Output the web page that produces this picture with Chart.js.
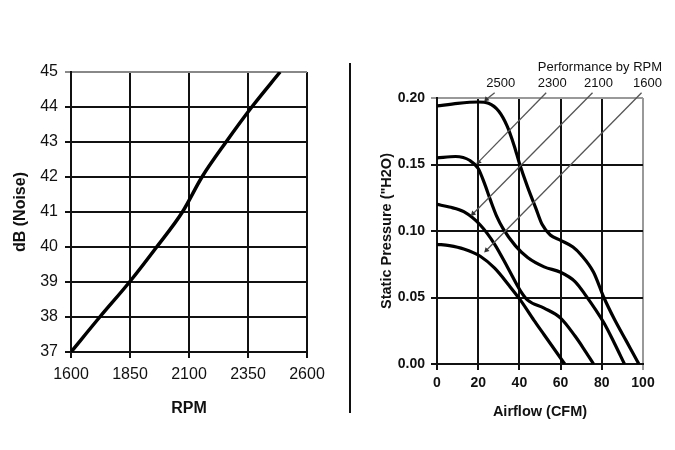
<!DOCTYPE html>
<html>
<head>
<meta charset="utf-8">
<script src="https://cdn.jsdelivr.net/npm/chart.js@4.4.1/dist/chart.umd.min.js"></script>
<style>
  html, body { margin: 0; padding: 0; background: #fff; }
  #page { position: relative; width: 675px; height: 450px; overflow: hidden; }
  #leftBox { position: absolute; left: 0; top: 0; width: 340px; height: 450px; }
  #rightBox { position: absolute; left: 352px; top: 0; width: 323px; height: 450px; }
  #divider { position: absolute; left: 349px; top: 63px; width: 2px; height: 350px; background: #111; }
</style>
</head>
<body>
<div id="page">
  <div id="leftBox"><canvas id="noiseChart"></canvas></div>
  <div id="divider"></div>
  <div id="rightBox"><canvas id="pressureChart"></canvas></div>
</div>
<script>
// noise vs rpm
const rpmValues = [1600, 1722, 1848, 1963, 2072, 2155, 2257, 2366, 2486];
const noiseDb = [37, 38, 39, 40, 41, 42, 43, 44, 45];

// fan curves, airflow (CFM) / static pressure ("H2O)
const airflow2500 = [0, 10, 20, 25, 30, 34, 37.5, 40, 44, 48, 51, 55, 60, 66, 70, 76, 81, 86, 92, 98];
const pressure2500 = [0.194, 0.196, 0.197, 0.196, 0.19, 0.179, 0.164, 0.151, 0.133, 0.117, 0.105, 0.097, 0.093, 0.088, 0.082, 0.069, 0.05, 0.034, 0.017, 0];
const airflow2300 = [0, 9, 16, 20, 23, 26, 29, 32, 38, 44, 52, 60, 67, 72, 81, 86, 91];
const pressure2300 = [0.155, 0.156, 0.153, 0.147, 0.136, 0.123, 0.111, 0.102, 0.089, 0.08, 0.073, 0.069, 0.062, 0.052, 0.031, 0.016, 0];
const airflow2100 = [0, 6, 13, 21, 28, 34.5, 40.5, 44, 52, 60, 67, 71, 76];
const pressure2100 = [0.12, 0.118, 0.1145, 0.1045, 0.09, 0.072, 0.055, 0.048, 0.042, 0.0345, 0.021, 0.012, 0];
const airflow1600 = [0, 6, 13, 21, 28, 35, 40.5, 47, 52, 62];
const pressure1600 = [0.09, 0.089, 0.0865, 0.081, 0.072, 0.059, 0.048, 0.033, 0.022, 0];

// "Performance by RPM" call-outs
const curveRpm = ['2500', '2300', '2100', '1600'];
const leaderTopX = [28, 53, 75.5, 99.3];
const leaderTopY = [0.204, 0.204, 0.204, 0.204];
const leaderTipX = [24, 20.2, 17.5, 24];
const leaderTipY = [0.199, 0.152, 0.113, 0.0855];
const legendTitle = 'Performance by RPM';

const FONT = '"Liberation Sans", Arial, sans-serif';

function toPoints(xs, ys) {
  return xs.map((v, i) => ({ x: v, y: ys[i] }));
}

function gridColor(max, edgeColor) {
  return ctx => (ctx.tick && ctx.tick.value === max ? edgeColor : '#111');
}

new Chart(document.getElementById('noiseChart'), {
  type: 'line',
  data: {
    datasets: [{
      data: toPoints(rpmValues, noiseDb),
      borderColor: '#000',
      borderWidth: 3.5,
      pointRadius: 0,
      cubicInterpolationMode: 'monotone'
    }]
  },
  options: {
    responsive: true,
    maintainAspectRatio: false,
    animation: false,
    layout: { padding: { top: 72, right: 33, bottom: 0, left: 0 } },
    plugins: { legend: { display: false }, tooltip: { enabled: false } },
    scales: {
      x: {
        type: 'linear',
        min: 1600,
        max: 2600,
        afterFit: s => { s.height = 98; },
        grid: { color: '#111', lineWidth: 2, tickLength: 6 },
        border: { color: '#111', width: 2 },
        ticks: { stepSize: 250, color: '#111', padding: 7, font: { family: FONT, size: 16 }, maxRotation: 0, callback: v => String(v) },
        title: { display: true, text: 'RPM', color: '#111', font: { family: FONT, size: 16, weight: 'bold' }, padding: { bottom: 32 } }
      },
      y: {
        min: 37,
        max: 45,
        afterFit: s => { s.width = 71; },
        grid: { color: gridColor(45, '#888'), lineWidth: 2, tickLength: 6 },
        border: { color: '#111', width: 2 },
        ticks: { stepSize: 1, color: '#111', padding: 7, font: { family: FONT, size: 16 } },
        title: { display: true, text: 'dB (Noise)', color: '#111', font: { family: FONT, size: 16, weight: 'bold' }, padding: { top: 11 } }
      }
    }
  }
});

const rpmLabelPlugin = {
  id: 'rpmLabels',
  afterDraw(chart) {
    const { ctx, scales: { x, y } } = chart;
    ctx.save();
    ctx.font = '13px ' + FONT;
    ctx.fillStyle = '#111';
    ctx.textAlign = 'center';
    ctx.textBaseline = 'middle';
    let lastRight = 0;
    curveRpm.forEach((rpm, i) => {
      const px = x.getPixelForValue(leaderTopX[i]) + 6;
      const py = y.getPixelForValue(leaderTopY[i]) - 9;
      ctx.fillText(rpm, px, py);
      lastRight = px + ctx.measureText(rpm).width / 2;
    });
    ctx.textAlign = 'right';
    ctx.fillText(legendTitle, lastRight, y.getPixelForValue(leaderTopY[0]) - 25);
    ctx.restore();
  }
};

const curveSets = [
  [airflow2500, pressure2500],
  [airflow2300, pressure2300],
  [airflow2100, pressure2100],
  [airflow1600, pressure1600]
].map(([xs, ys]) => ({
  data: toPoints(xs, ys),
  borderColor: '#000',
  borderWidth: 3.2,
  pointRadius: 0,
  cubicInterpolationMode: 'monotone'
}));

const leaderSets = curveRpm.map((rpm, i) => ({
  data: [{ x: leaderTopX[i], y: leaderTopY[i] }, { x: leaderTipX[i], y: leaderTipY[i] }],
  borderColor: '#555',
  borderWidth: 1.3,
  tension: 0,
  clip: false,
  pointRadius: [0, 3.2],
  pointStyle: 'triangle',
  rotation: 225,
  pointBackgroundColor: '#333',
  pointBorderColor: '#333',
  pointBorderWidth: 0
}));

new Chart(document.getElementById('pressureChart'), {
  type: 'line',
  data: { datasets: leaderSets.concat(curveSets) },
  options: {
    responsive: true,
    maintainAspectRatio: false,
    animation: false,
    layout: { padding: { top: 98, right: 32, bottom: 0, left: 0 } },
    plugins: { legend: { display: false }, tooltip: { enabled: false } },
    scales: {
      x: {
        type: 'linear',
        min: 0,
        max: 100,
        afterFit: s => { s.height = 86; },
        grid: { color: gridColor(100, '#999'), lineWidth: 2, tickLength: 6 },
        border: { color: '#111', width: 2 },
        ticks: { stepSize: 20, color: '#111', padding: 5, font: { family: FONT, size: 14, weight: 'bold' }, maxRotation: 0 },
        title: { display: true, text: 'Airflow (CFM)', color: '#111', font: { family: FONT, size: 14.5, weight: 'bold' }, padding: { bottom: 29 } }
      },
      y: {
        min: 0,
        max: 0.2,
        afterFit: s => { s.width = 85; },
        grid: { color: gridColor(0.2, '#999'), lineWidth: 2, tickLength: 6 },
        border: { color: '#111', width: 2 },
        ticks: { stepSize: 0.05, color: '#111', padding: 6, font: { family: FONT, size: 14, weight: 'bold' }, callback: v => v.toFixed(2) },
        title: { display: true, text: 'Static Pressure ("H2O)', color: '#111', font: { family: FONT, size: 14.5, weight: 'bold' }, padding: { top: 26 } }
      }
    }
  },
  plugins: [rpmLabelPlugin]
});
</script>
</body>
</html>
